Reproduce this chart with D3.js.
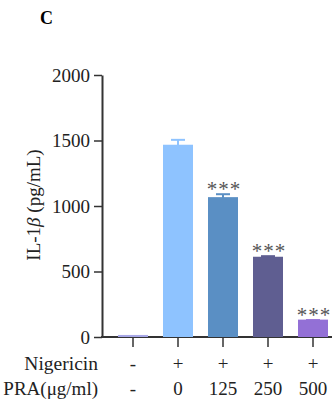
<!DOCTYPE html>
<html><head><meta charset="utf-8">
<script src="https://cdn.jsdelivr.net/npm/d3@7"></script>
<style>body{margin:0;background:#fff}svg{display:block}svg text{font-family:"Liberation Serif","Times New Roman",serif !important}</style>
</head><body>
<script>
const categories = ["ctrl","nig","pra125","pra250","pra500"];
const values = [8, 1460, 1060, 605, 125];
const errors = [0, 45, 30, 12, 4];
const stars = ["", "", "***", "***", "***"];
const nigericinRow = ["-", "+", "+", "+", "+"];
const praRow = ["-", "0", "125", "250", "500"];
const colors = ["#a7a7e6", "#8ec3ff", "#5a8fc4", "#5f5e91", "#9370d6"];
const yTicks = [0, 500, 1000, 1500, 2000];

const W = 332, H = 407;
const FONT = "'Liberation Serif', 'Times New Roman', serif";
const svg = d3.select("body").append("svg").attr("width", W).attr("height", H)
  .attr("font-family", FONT);

const x = d3.scaleBand().domain(categories).range([110.5, 335.5]).paddingInner(1/3).paddingOuter(1/6);
const y = d3.scaleLinear().domain([0, 2000]).range([337, 75]);
const axisX = 102;

// panel letter
svg.append("text").attr("x", 40).attr("y", 24).attr("font-size", 18).attr("font-weight", "bold").text("C");

// y axis
const ya = svg.append("g").attr("transform", `translate(${axisX},0)`)
  .call(d3.axisLeft(y).tickValues(yTicks).tickFormat(d3.format("d")).tickSize(8).tickSizeOuter(0).tickPadding(4))
  .attr("font-family", FONT).attr("font-size", 19);
ya.select(".domain").attr("stroke", "#333").attr("stroke-width", 2);
ya.selectAll(".tick line").attr("stroke", "#333").attr("stroke-width", 1.5);
ya.selectAll(".tick text").attr("fill", "#222");

// y title
const yt = svg.append("text").attr("transform", "translate(40,205) rotate(-90)")
  .attr("text-anchor", "middle").attr("font-size", 19).attr("fill", "#222");
yt.append("tspan").text("IL-1");
yt.append("tspan").attr("font-style", "italic").text("β");
yt.append("tspan").text(" (pg/mL)");

// x axis
svg.append("line").attr("x1", axisX - 1).attr("x2", W).attr("y1", y(0)).attr("y2", y(0))
  .attr("stroke", "#333").attr("stroke-width", 2);
const xa = svg.append("g").attr("transform", `translate(0,${y(0)})`)
  .call(d3.axisBottom(x).tickSize(10).tickSizeOuter(0).tickFormat(""));
xa.select(".domain").remove();
xa.selectAll(".tick line").attr("stroke", "#333").attr("stroke-width", 1.5);

// bars
svg.selectAll("rect.bar").data(categories).join("rect").attr("class", "bar")
  .attr("x", d => x(d)).attr("width", x.bandwidth())
  .attr("y", (d, i) => y(values[i]) - 1).attr("height", (d, i) => y(0) - y(values[i]) + 1)
  .attr("fill", (d, i) => colors[i]);

// error bars
categories.forEach((c, i) => {
  if (!errors[i]) return;
  const cx = x(c) + x.bandwidth() / 2;
  svg.append("line").attr("x1", cx).attr("x2", cx).attr("y1", y(values[i])).attr("y2", y(values[i] + errors[i]))
    .attr("stroke", colors[i]).attr("stroke-width", 2);
  svg.append("line").attr("x1", cx - 7).attr("x2", cx + 7).attr("y1", y(values[i] + errors[i])).attr("y2", y(values[i] + errors[i]))
    .attr("stroke", colors[i]).attr("stroke-width", 2);
  if (stars[i]) {
    svg.append("text").attr("x", cx + 1).attr("y", y(values[i] + errors[i]) + 2)
      .attr("text-anchor", "middle").attr("font-size", 21).attr("letter-spacing", 1)
      .attr("fill", "#555").text(stars[i]);
  }
});

// condition rows
svg.append("text").attr("x", 98).attr("y", 370).attr("text-anchor", "end").attr("font-size", 19.5).attr("fill", "#222").text("Nigericin");
svg.append("text").attr("x", 98).attr("y", 395).attr("text-anchor", "end").attr("font-size", 19).attr("fill", "#222").text("PRA(μg/ml)");
svg.selectAll("text.r1").data(categories).join("text").attr("class", "r1")
  .attr("x", d => x(d) + x.bandwidth() / 2).attr("y", 370).attr("text-anchor", "middle")
  .attr("font-size", 19).attr("fill", "#222").text((d, i) => nigericinRow[i]);
svg.selectAll("text.r2").data(categories).join("text").attr("class", "r2")
  .attr("x", d => x(d) + x.bandwidth() / 2).attr("y", 395).attr("text-anchor", "middle")
  .attr("font-size", 19).attr("fill", "#222").text((d, i) => praRow[i]);
</script>
</body></html>
